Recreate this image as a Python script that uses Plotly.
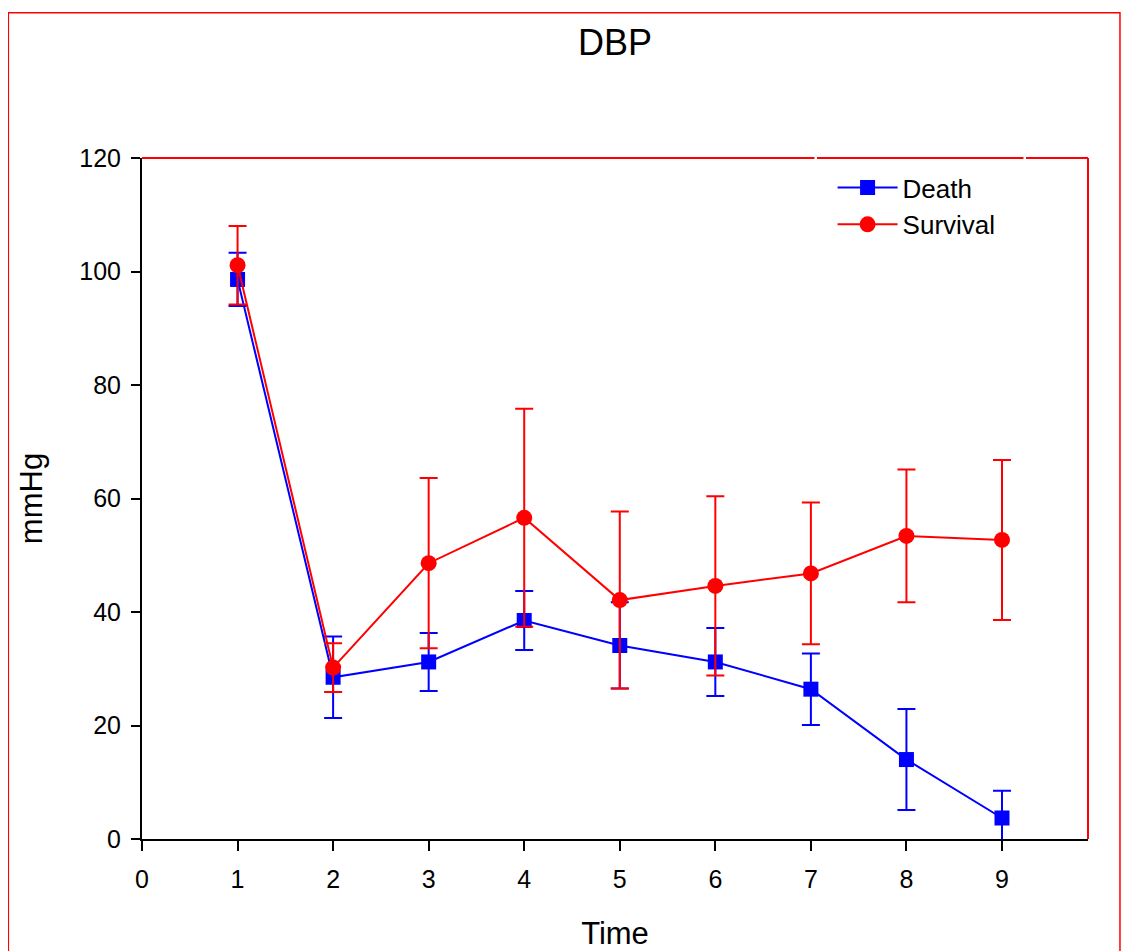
import plotly.graph_objects as go

time = [1, 2, 3, 4, 5, 6, 7, 8, 9]
death_mean = [98.6, 28.5, 31.2, 38.5, 34.1, 31.2, 26.4, 14.0, 3.7]
death_err = [4.7, 7.2, 5.1, 5.2, 7.6, 6.0, 6.3, 8.9, 4.8]
surv_mean = [101.1, 30.2, 48.6, 56.6, 42.1, 44.6, 46.8, 53.4, 52.7]
surv_err = [6.9, 4.3, 15.0, 19.2, 15.6, 15.8, 12.5, 11.7, 14.1]

x_ticks = list(range(0, 10))
y_ticks = [0, 20, 40, 60, 80, 100, 120]

BLUE = "#0000FF"
RED = "#FF0000"
FONT = "Liberation Sans, Arial, sans-serif"

fig = go.Figure()
fig.add_trace(go.Scatter(
    x=time, y=death_mean, name="Death", mode="lines+markers",
    line=dict(color=BLUE, width=2),
    marker=dict(symbol="square", size=15, color=BLUE),
    error_y=dict(type="data", array=death_err, color=BLUE, thickness=2, width=9),
    cliponaxis=True,
))
fig.add_trace(go.Scatter(
    x=time, y=surv_mean, name="Survival", mode="lines+markers",
    line=dict(color=RED, width=2),
    marker=dict(symbol="circle", size=16, color=RED),
    error_y=dict(type="data", array=surv_err, color=RED, thickness=2, width=9),
    cliponaxis=True,
))

fig.update_layout(
    width=1133, height=951,
    margin=dict(l=134, r=53, t=150, b=120),
    paper_bgcolor="white", plot_bgcolor="white",
    font=dict(family=FONT, color="black", size=25),
    title=dict(text="DBP", xref="paper", x=0.5, xanchor="center",
               y=0.964, yanchor="middle",
               font=dict(size=36, family=FONT, color="black")),
    showlegend=True,
    legend=dict(x=0.73, y=0.991, xanchor="left", yanchor="top",
                bgcolor="rgba(0,0,0,0)", font=dict(size=26, family=FONT),
                itemwidth=60, tracegroupgap=0),
    xaxis=dict(range=[0, 9.9], tickmode="array", tickvals=x_ticks,
               ticktext=[str(v) for v in x_ticks],
               ticks="outside", ticklen=10, tickwidth=2, tickcolor="black",
               showline=True, linecolor="black", linewidth=2,
               showgrid=False, zeroline=False, ticklabelstandoff=7,
               tickfont=dict(size=25, family=FONT),
               title=dict(text="Time", font=dict(size=31, family=FONT), standoff=30)),
    yaxis=dict(range=[0, 120], tickmode="array", tickvals=y_ticks,
               ticktext=[str(v) for v in y_ticks],
               ticks="outside", ticklen=9, tickwidth=2, tickcolor="black",
               showline=True, linecolor="black", linewidth=2,
               showgrid=False, zeroline=False, ticklabelstandoff=5,
               tickfont=dict(size=25, family=FONT),
               title=dict(text="mmHg", font=dict(size=31, family=FONT), standoff=27)),
)

shapes = []
# red top axis line (with small gaps) and right axis line
for x0, x1 in [(0.0, 0.7109), (0.7135, 0.9318), (0.9345, 1.0)]:
    shapes.append(dict(type="line", xref="x domain", yref="y domain",
                       x0=x0, x1=x1, y0=1, y1=1, line=dict(color=RED, width=2)))
shapes.append(dict(type="line", xref="x domain", yref="y domain",
                   x0=1, x1=1, y0=0, y1=1, line=dict(color=RED, width=2)))
# outer red border
shapes.append(dict(type="rect", xref="paper", yref="paper",
                   x0=-0.1413, x1=1.0338, y0=-0.2, y1=1.2134,
                   line=dict(color=RED, width=1.5), fillcolor="rgba(0,0,0,0)",
                   layer="below"))
fig.update_layout(shapes=shapes)

fig.write_html("out.html")
